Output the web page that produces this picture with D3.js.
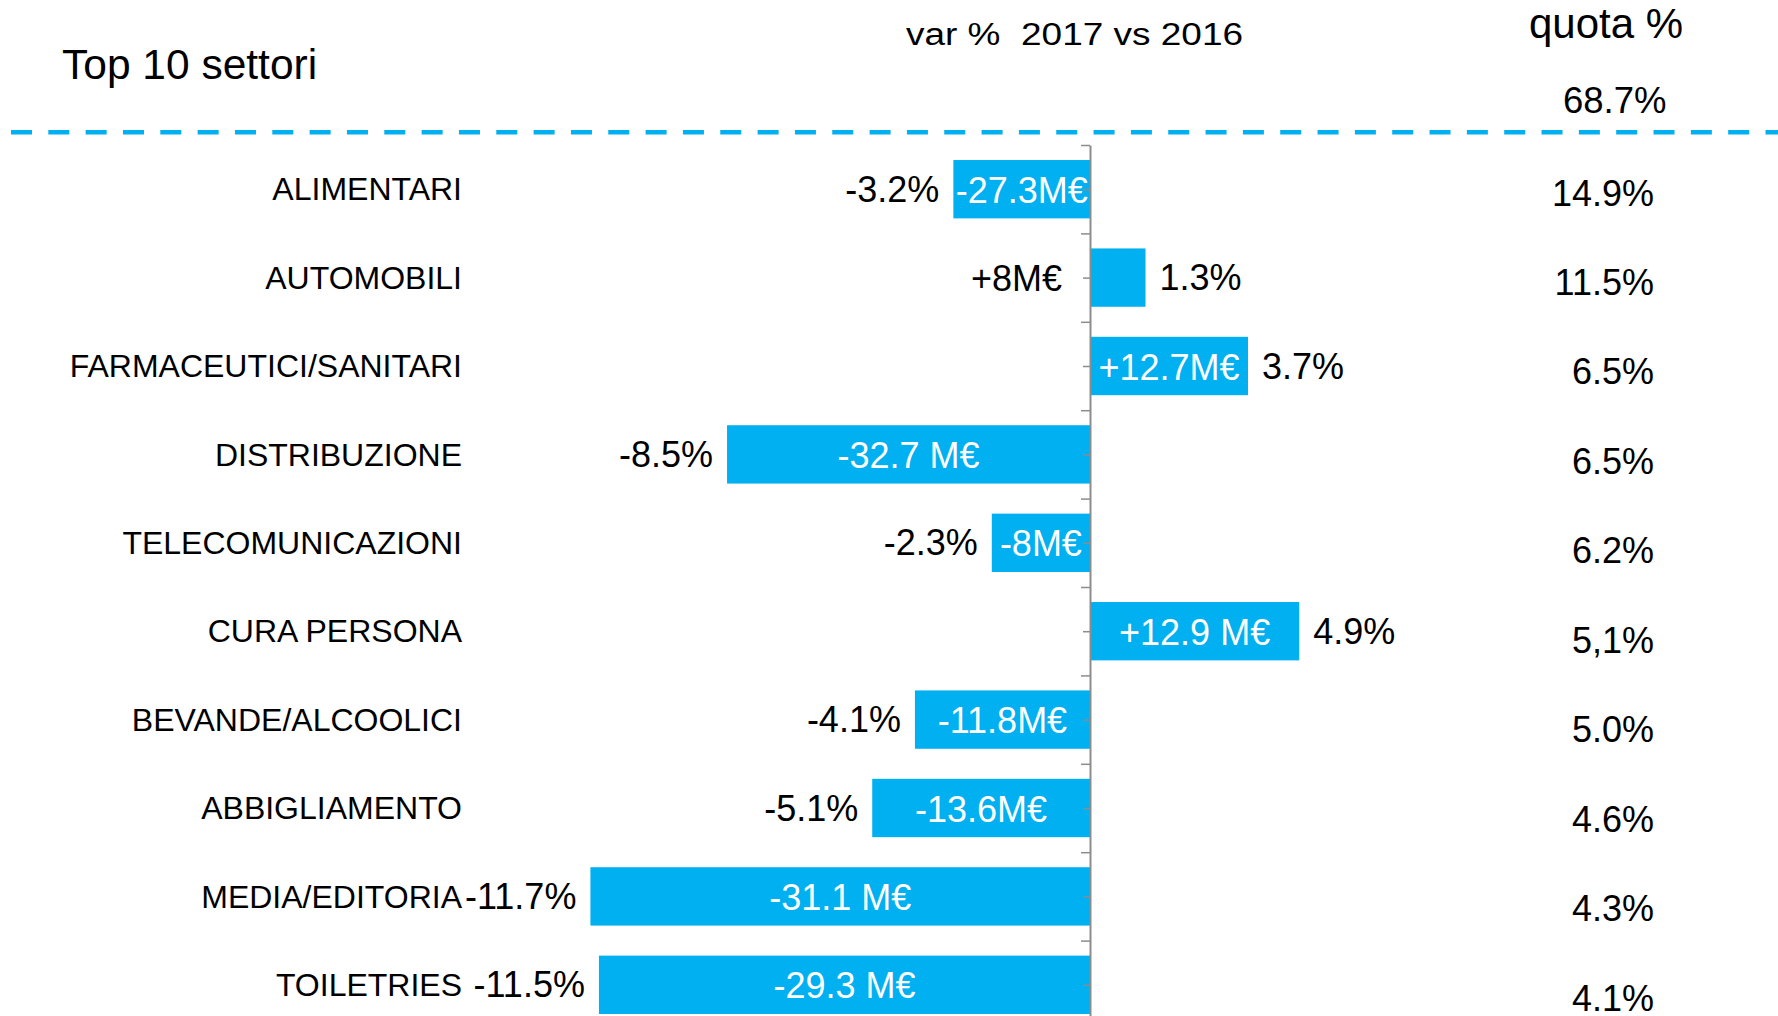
<!DOCTYPE html>
<html>
<head>
<meta charset="utf-8">
<script src="https://cdn.jsdelivr.net/npm/d3@7"></script>
<style>
  body { margin: 0; background: #fff; }
  text { font-family: "Liberation Sans", Arial, sans-serif; fill: #000; }
</style>
</head>
<body>
<div id="chart"></div>
<script>
// data
const categories = ["ALIMENTARI", "AUTOMOBILI", "FARMACEUTICI/SANITARI", "DISTRIBUZIONE",
  "TELECOMUNICAZIONI", "CURA PERSONA", "BEVANDE/ALCOOLICI", "ABBIGLIAMENTO",
  "MEDIA/EDITORIA", "TOILETRIES"];
const varPct = [-3.2, 1.3, 3.7, -8.5, -2.3, 4.9, -4.1, -5.1, -11.7, -11.5];
const deltaLabels = ["-27.3M€", "+8M€", "+12.7M€", "-32.7 M€", "-8M€", "+12.9 M€",
  "-11.8M€", "-13.6M€", "-31.1 M€", "-29.3 M€"];
const quotaLabels = ["14.9%", "11.5%", "6.5%", "6.5%", "6.2%", "5,1%", "5.0%", "4.6%", "4.3%", "4.1%"];
const quotaTotal = "68.7%";

const width = 1778, height = 1016;
const blue = "#00b0f0";

const rows = categories.map((c, i) => ({name: c, pct: varPct[i], delta: deltaLabels[i], quota: quotaLabels[i]}));

const svg = d3.select("#chart").append("svg")
  .attr("width", width)
  .attr("height", height);

// scales
const zeroX = 1090, pxPerPct = 42.7;
const x = d3.scaleLinear()
  .domain([-12, 6])
  .range([zeroX - 12 * pxPerPct, zeroX + 6 * pxPerPct]);

const topY = 145, step = 88.4;
const y = d3.scaleBand()
  .domain(categories)
  .range([topY, topY + step * categories.length])
  .paddingInner(0.34)
  .paddingOuter(0.17);

// quota column drifts a bit from the bar rows
const yQuota = d3.scalePoint()
  .domain(categories)
  .range([193, 998]);

//header
svg.append("text")
  .attr("x", 62)
  .attr("y", 79)
  .attr("font-size", "42.5px")
  .text("Top 10 settori");

svg.append("text")
  .attr("x", 906)
  .attr("y", 45)
  .attr("font-size", "31px")
  .attr("textLength", 337)
  .attr("lengthAdjust", "spacingAndGlyphs")
  .style("white-space", "pre")
  .text("var %  2017 vs 2016");

svg.append("text")
  .attr("x", 1529)
  .attr("y", 38)
  .attr("font-size", "42px")
  .text("quota %");

svg.append("text")
  .attr("x", 1563)
  .attr("y", 113)
  .attr("font-size", "36.5px")
  .text(quotaTotal);

svg.append("line")
  .attr("x1", 11)
  .attr("x2", width)
  .attr("y1", 132.3)
  .attr("y2", 132.3)
  .attr("stroke", blue)
  .attr("stroke-width", 4.5)
  .attr("stroke-dasharray", "21 16.33");

// category labels
svg.selectAll(".cat")
  .data(rows)
  .join("text")
  .attr("class", "cat")
  .attr("x", 462)
  .attr("y", d => y(d.name) + y.bandwidth() / 2)
  .attr("dy", "0.35em")
  .attr("text-anchor", "end")
  .attr("font-size", "32px")
  .text(d => d.name);

// bars
svg.selectAll(".bar")
  .data(rows)
  .join("rect")
  .attr("class", "bar")
  .attr("x", d => x(Math.min(0, d.pct)))
  .attr("y", d => y(d.name))
  .attr("width", d => Math.abs(x(d.pct) - x(0)))
  .attr("height", y.bandwidth())
  .attr("fill", blue);

// zero axis with ticks at row edges and row centres
const yTick = d3.scaleLinear()
  .domain([0, categories.length])
  .range([topY, topY + step * categories.length]);

const axis = svg.append("g")
  .attr("transform", `translate(${zeroX}, 0)`)
  .call(d3.axisLeft(yTick)
    .tickValues(d3.range(0, categories.length + 0.01, 0.5))
    .tickSize(7)
    .tickSizeOuter(0)
    .tickFormat(""));
axis.select(".domain").attr("stroke", "#8c8c8c").attr("stroke-width", 2);
axis.selectAll(".tick line").attr("stroke", "#8c8c8c").attr("stroke-width", 1.5)
  .filter(d => Number.isInteger(d)).attr("x2", -9);

// var % labels beside the bars
const gap = 14;
svg.selectAll(".pct")
  .data(rows)
  .join("text")
  .attr("class", "pct")
  .attr("x", d => d.pct < 0 ? x(d.pct) - gap : x(d.pct) + gap)
  .attr("y", d => y(d.name) + y.bandwidth() / 2)
  .attr("dy", "0.35em")
  .attr("text-anchor", d => d.pct < 0 ? "end" : "start")
  .attr("font-size", "36px")
  .text(d => d.pct.toFixed(1) + "%");

// M€ labels inside bars, outside when they don't fit
svg.selectAll(".delta")
  .data(rows)
  .join("text")
  .attr("class", "delta")
  .attr("y", d => y(d.name) + y.bandwidth() / 2)
  .attr("dy", "0.38em")
  .attr("font-size", "36px")
  .text(d => d.delta)
  .each(function(d) {
    const w = this.getComputedTextLength();
    const barW = Math.abs(x(d.pct) - x(0));
    const t = d3.select(this);
    if (w + 2 <= barW) {
      t.attr("x", (x(d.pct) + x(0)) / 2).attr("text-anchor", "middle").style("fill", "#fff");
    } else if (d.pct > 0) {
      t.attr("x", x(0) - 28).attr("text-anchor", "end").style("fill", "#000");
    } else {
      t.attr("x", x(0) + 28).attr("text-anchor", "start").style("fill", "#000");
    }
  });

// quota column
svg.selectAll(".quota")
  .data(rows)
  .join("text")
  .attr("class", "quota")
  .attr("x", 1654)
  .attr("y", d => yQuota(d.name))
  .attr("dy", "0.35em")
  .attr("text-anchor", "end")
  .attr("font-size", "36px")
  .text(d => d.quota);
</script>
</body>
</html>
